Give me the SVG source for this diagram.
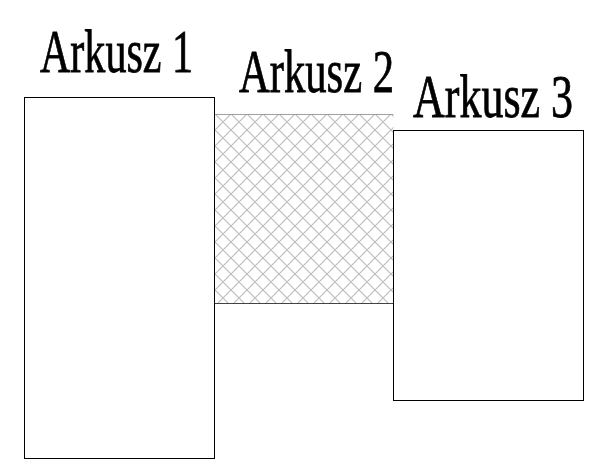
<svg xmlns="http://www.w3.org/2000/svg" width="606" height="462" viewBox="0 0 606 462">
<style>
.lbl{font-family:"Liberation Serif","Times New Roman",serif;font-size:62px;fill:#000;stroke:#000;stroke-width:0.8}
.sheet{fill:#fff;stroke:#000;stroke-width:1}
</style>
<defs>
<pattern id="hatch" patternUnits="userSpaceOnUse" x="215" y="114" width="16" height="16">
<path d="M0,0 L16,16 M16,0 L0,16" stroke="#bdbdbd" stroke-width="1.2" fill="none"/>
</pattern>
</defs>
<rect width="606" height="462" fill="#fff"/>
<g id="arkusz1">
<rect class="sheet" x="24.5" y="97.5" width="190" height="361"/>
<text class="lbl" x="40" y="72" textLength="153" lengthAdjust="spacingAndGlyphs">Arkusz 1</text>
</g>
<g id="arkusz2">
<rect x="214.5" y="114.5" width="179" height="189" fill="url(#hatch)" stroke="none"/>
<line x1="214.5" y1="114.5" x2="393.5" y2="114.5" stroke="#a0a0a0" stroke-width="1"/>
<line x1="214.5" y1="303.5" x2="393.5" y2="303.5" stroke="#444" stroke-width="1"/>
<line x1="214.5" y1="97.5" x2="214.5" y2="458.5" stroke="#000" stroke-width="1"/>
<text class="lbl" x="239" y="92" textLength="155" lengthAdjust="spacingAndGlyphs">Arkusz 2</text>
</g>
<g id="arkusz3">
<rect class="sheet" x="393.5" y="130.5" width="190" height="270"/>
<text class="lbl" x="413" y="117" textLength="160" lengthAdjust="spacingAndGlyphs">Arkusz 3</text>
</g>
<g id="connectors"></g>
</svg>
